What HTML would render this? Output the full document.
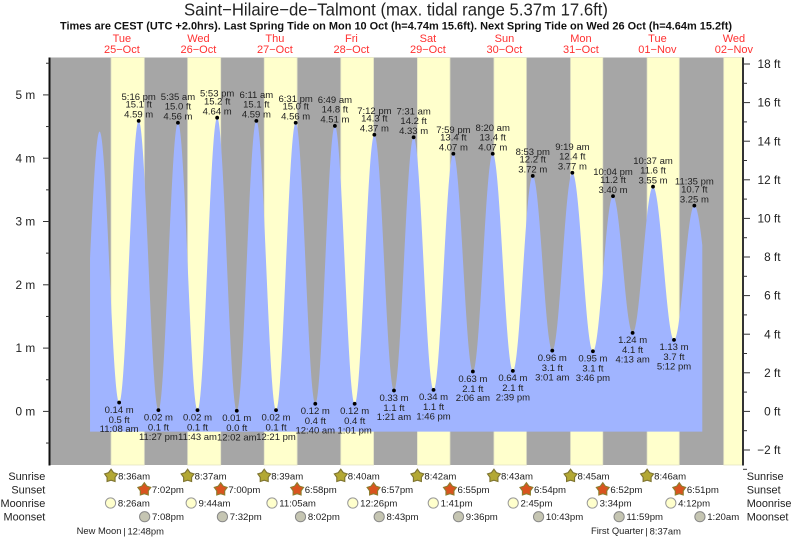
<!DOCTYPE html>
<html lang="en">
<head>
<meta charset="utf-8">
<title>Saint-Hilaire-de-Talmont tide chart</title>
<style>
html,body{margin:0;padding:0;background:#fff;}
body{width:793px;height:539px;overflow:hidden;}
svg{display:block;font-family:"Liberation Sans",Arial,sans-serif;}
</style>
</head>
<body>
<svg id="chart" xmlns="http://www.w3.org/2000/svg" width="793" height="539" viewBox="0 0 793 539">
  <rect x="0" y="0" width="793" height="539" fill="#ffffff"/>
  <text x="396" y="15.5" text-anchor="middle" font-size="17.6" fill="#222" textLength="424" lengthAdjust="spacingAndGlyphs">Saint−Hilaire−de−Talmont (max. tidal range 5.37m 17.6ft)</text>
  <text x="396" y="29.3" text-anchor="middle" font-size="11" font-weight="bold" fill="#111" textLength="672" lengthAdjust="spacingAndGlyphs">Times are CEST (UTC +2.0hrs). Last Spring Tide on Mon 10 Oct (h=4.74m 15.6ft). Next Spring Tide on Wed 26 Oct (h=4.64m 15.2ft)</text>
  <g id="bands"></g>
  <g id="tide"></g>
  <g id="axes"></g>
  <g id="days"></g>
  <g id="labels"></g>
  <g id="almanac"></g>
</svg>
<script>
/* ---------- data ---------- */
const dayNames = ["Tue","Wed","Thu","Fri","Sat","Sun","Mon","Tue","Wed"];
const dayDates = ["25−Oct","26−Oct","27−Oct","28−Oct","29−Oct","30−Oct","31−Oct","01−Nov","02−Nov"];

/* tide extremes: day index from 25 Oct, clock time, height (m), printed feet (null = not labelled) */
const tideDay = [-1,0,0,0,0,1,1,1,2,2,2,2,3,3,3,3,4,4,4,4,5,5,5,5,6,6,6,6,7,7,7,7,8];
const tideTime = ["10:50 pm","5:00 am","11:08 am","5:16 pm","11:27 pm","5:35 am","11:43 am","5:53 pm","12:02 am","6:11 am","12:21 pm","6:31 pm","12:40 am","6:49 am","1:01 pm","7:12 pm","1:21 am","7:31 am","1:46 pm","7:59 pm","2:06 am","8:20 am","2:39 pm","8:53 pm","3:01 am","9:19 am","3:46 pm","10:04 pm","4:13 am","10:37 am","5:12 pm","11:35 pm","6:00 am"];
const tideMetres = [0.25,4.42,0.14,4.59,0.02,4.56,0.02,4.64,0.01,4.59,0.02,4.56,0.12,4.51,0.12,4.37,0.33,4.33,0.34,4.07,0.63,4.07,0.64,3.72,0.96,3.77,0.95,3.40,1.24,3.55,1.13,3.25,1.35];
const tideFeet = [null,null,"0.5","15.1","0.1","15.0","0.1","15.2","0.0","15.1","0.1","15.0","0.4","14.8","0.4","14.3","1.1","14.2","1.1","13.4","2.1","13.4","2.1","12.2","3.1","12.4","3.1","11.2","4.1","11.6","3.7","10.7",null];
const tideBaseMetres = -0.32;
const tideWindowHours = [2.0, 194.08];

const metreTicks = [-0.5,0,0.5,1,1.5,2,2.5,3,3.5,4,4.5,5,5.5];
const metreLabels = [0,1,2,3,4,5];
const feetTicks = [-3,-2,-1,0,1,2,3,4,5,6,7,8,9,10,11,12,13,14,15,16,17,18];
const feetLabels = [-2,0,2,4,6,8,10,12,14,16,18];

const sunriseDay = [0,1,2,3,4,5,6,7,8];
const sunriseTime = ["8:36am","8:37am","8:39am","8:40am","8:42am","8:43am","8:45am","8:46am","8:48am"];
const sunsetDay = [0,1,2,3,4,5,6,7];
const sunsetTime = ["7:02pm","7:00pm","6:58pm","6:57pm","6:55pm","6:54pm","6:52pm","6:51pm"];
const moonriseDay = [0,1,2,3,4,5,6,7];
const moonriseTime = ["8:26am","9:44am","11:05am","12:26pm","1:41pm","2:45pm","3:34pm","4:12pm"];
const moonsetDay = [0,1,2,3,4,5,6,8];
const moonsetTime = ["7:08pm","7:32pm","8:02pm","8:43pm","9:36pm","10:43pm","11:59pm","1:20am"];
const moonPhaseName = ["New Moon","First Quarter"];
const moonPhaseDay = [0,7];
const moonPhaseTime = ["12:48pm","8:37am"];

/* ---------- axis functions ---------- */
const plot = {left:49.5,right:743,top:57.5,bottom:465};
function xHours(h){ return 83.65 + h*3.1876; }
function yMetres(m){ return 411.4 - m*63.3; }
function yFeet(f){ return 411.4 - f*19.3; }
function clockHours(s){
  const m = s.match(/(\d+):(\d+)\s*(am|pm)/);
  return (parseInt(m[1],10)%12) + parseInt(m[2],10)/60 + (m[3]==="pm"?12:0);
}
function when(day,time){ return day*24 + clockHours(time); }

const NS = "http://www.w3.org/2000/svg";
function make(parent,tag,attrs){
  const el = document.createElementNS(NS,tag);
  for(const k in attrs){ el.setAttribute(k,attrs[k]); }
  parent.appendChild(el);
  return el;
}
function label(parent,x,y,str,size,anchor,fill){
  const el = make(parent,"text",{x:x,y:y,"font-size":size,"text-anchor":anchor,fill:fill});
  el.textContent = str;
  return el;
}
function starPoints(cx,cy,ro,ri){
  const pts = [];
  for(let i=0;i<10;i++){
    const r = i%2===0 ? ro : ri;
    const a = -Math.PI/2 + i*Math.PI/5;
    pts.push((cx+r*Math.cos(a)).toFixed(2)+","+(cy+r*Math.sin(a)).toFixed(2));
  }
  return pts.join(" ");
}

/* ---------- bands ---------- */
const bands = document.getElementById("bands");
const nightBg = make(bands,"rect",{x:plot.left,y:plot.top,width:plot.right-plot.left,height:plot.bottom-plot.top,fill:"#a6a6a6"});


sunriseDay.forEach(function(d,i){
  const x0 = xHours(when(d,sunriseTime[i]));
  const x1 = i<sunsetDay.length ? xHours(when(sunsetDay[i],sunsetTime[i])) : plot.right;
  const r = make(bands,"rect",{x:x0,y:plot.top,width:Math.min(x1,plot.right)-x0,height:plot.bottom-plot.top,fill:"#ffffcc",stroke:"#e4e4c4","stroke-width":0.8});
  
  
});

/* ---------- tide curve: cosine-shaped rise and fall between the read extremes ---------- */
const tideG = document.getElementById("tide");
const tideHours = tideDay.map(function(d,i){ return when(d,tideTime[i]); });
function tideAt(h){
  for(let i=0;i<tideHours.length-1;i++){
    if(h>=tideHours[i] && h<=tideHours[i+1]){
      const f = (h-tideHours[i])/(tideHours[i+1]-tideHours[i]);
      return tideMetres[i] + (tideMetres[i+1]-tideMetres[i])*(1-Math.cos(Math.PI*f))/2;
    }
  }
  return tideBaseMetres;
}
(function(){
  const h0 = tideWindowHours[0], h1 = tideWindowHours[1];
  const hs = [];
  for(let h=h0;h<h1;h+=0.1){ hs.push(h); }
  tideHours.forEach(function(h){ if(h>h0 && h<h1){ hs.push(h); } });
  hs.push(h1);
  hs.sort(function(a,b){ return a-b; });
  let d = "M"+xHours(h0).toFixed(2)+" "+yMetres(tideBaseMetres).toFixed(2);
  hs.forEach(function(h){ d += "L"+xHours(h).toFixed(2)+" "+yMetres(tideAt(h)).toFixed(2); });
  d += "L"+xHours(h1).toFixed(2)+" "+yMetres(tideBaseMetres).toFixed(2)+"Z";
  const area = make(tideG,"path",{d:d,fill:"#a0b4ff"});
  
  
})();

/* ---------- tide dots and labels ---------- */
const labelsG = document.getElementById("labels");
tideMetres.forEach(function(m,i){
  if(tideFeet[i]===null){ return; }
  const x = xHours(tideHours[i]);
  const y = yMetres(m);
  const dot = make(labelsG,"circle",{cx:x,cy:y,r:1.9,fill:"#000"});
  
  
  const prev = tideMetres[i-1], isHigh = m>prev;
  const isPm = /pm/.test(tideTime[i]);
  const off = isHigh ? [isPm?-21:-22.7,-13.2,-3.4] : [10.3,20.3,29.7];
  const strs = isHigh ? [tideTime[i],tideFeet[i]+" ft",m.toFixed(2)+" m"] : [m.toFixed(2)+" m",tideFeet[i]+" ft",tideTime[i]];
  strs.forEach(function(s,k){
    const t = label(labelsG,x,y+off[k],s,9.5,"middle","#222");
    
    
  });
});

/* ---------- axes ---------- */
const axes = document.getElementById("axes");
const leftLine = make(axes,"line",{x1:plot.left,y1:plot.top,x2:plot.left,y2:plot.bottom+0.5,stroke:"#111","stroke-width":2});


const rightLine = make(axes,"line",{x1:plot.right,y1:plot.top,x2:plot.right,y2:plot.bottom+0.5,stroke:"#333","stroke-width":2});


metreTicks.forEach(function(m){
  const major = metreLabels.indexOf(m)>=0;
  const y = yMetres(m);
  const tk = make(axes,"line",{x1:major?43:46,y1:y,x2:plot.left,y2:y,stroke:"#333","stroke-width":1});
  
  
  if(major){
    const t = label(axes,35.2,y+4.1,m+" m",11.8,"end","#222");
    
    
  }
});
feetTicks.forEach(function(f){
  const major = feetLabels.indexOf(f)>=0;
  const y = yFeet(f);
  const tk = make(axes,"line",{x1:plot.right,y1:y,x2:major?750:747,y2:y,stroke:"#333","stroke-width":1});
  
  
  if(major){
    const str = (f<0?"−"+Math.abs(f):String(f))+" ft";
    const t = label(axes,780.5,y+4.1,str,11.8,"end","#222");
    
    
  }
});

/* ---------- day labels ---------- */
const daysG = document.getElementById("days");
dayNames.forEach(function(n,i){
  const x = xHours(i*24+12);
  const a = label(daysG,x,42,n,11,"middle","#ff3030");
  
  
  const b = label(daysG,x,53,dayDates[i],11,"middle","#ff3030");
  
  
});

/* ---------- almanac rows ---------- */
const alm = document.getElementById("almanac");
const rowNames = ["Sunrise","Sunset","Moonrise","Moonset"];
const rowY = [476,489.5,503,516.7];
rowNames.forEach(function(n,i){
  const a = label(alm,45.3,rowY[i]+3.9,n,10.9,"end","#222");
  
  
  const b = label(alm,746.7,rowY[i]+3.9,n,10.9,"start","#222");
  
  
});
sunriseDay.slice(0,8).forEach(function(d,i){
  const x = xHours(when(d,sunriseTime[i]));
  const s = make(alm,"polygon",{points:starPoints(x,rowY[0],6.8,4.2),fill:"#b3a834",stroke:"#7d7330","stroke-width":1.1});
  
  
  const t = label(alm,x+7,rowY[0]+3.5,sunriseTime[i],9.6,"start","#222");
  
  
});
sunsetDay.forEach(function(d,i){
  const x = xHours(when(d,sunsetTime[i]));
  const s = make(alm,"polygon",{points:starPoints(x,rowY[1],6.8,4.2),fill:"#d9541f",stroke:"#8d7d2d","stroke-width":1.1});
  
  
  const t = label(alm,x+7.6,rowY[1]+3.5,sunsetTime[i],9.6,"start","#222");
  
  
});
moonriseDay.forEach(function(d,i){
  const x = xHours(when(d,moonriseTime[i]));
  const c = make(alm,"circle",{cx:x,cy:rowY[2],r:5.1,fill:"#ffffcc",stroke:"#999","stroke-width":1});
  
  
  const t = label(alm,x+7.3,rowY[2]+3.5,moonriseTime[i],9.6,"start","#222");
  
  
});
moonsetDay.forEach(function(d,i){
  const x = xHours(when(d,moonsetTime[i]));
  const c = make(alm,"circle",{cx:x,cy:rowY[3],r:5.1,fill:"#c5c5b2",stroke:"#888","stroke-width":1});
  
  
  const t = label(alm,x+7.3,rowY[3]+3.5,moonsetTime[i],9.6,"start","#222");
  
  
});
moonPhaseName.forEach(function(n,i){
  const x = xHours(when(moonPhaseDay[i],moonPhaseTime[i]));
  const a = label(alm,x-3,534,n,9.4,"end","#222");
  
  
  const bar = label(alm,x,534.5,"|",9.4,"middle","#222");
  
  
  const b = label(alm,x+3,534.5,moonPhaseTime[i],9.4,"start","#222");
  
  
});
</script>
</body>
</html>
